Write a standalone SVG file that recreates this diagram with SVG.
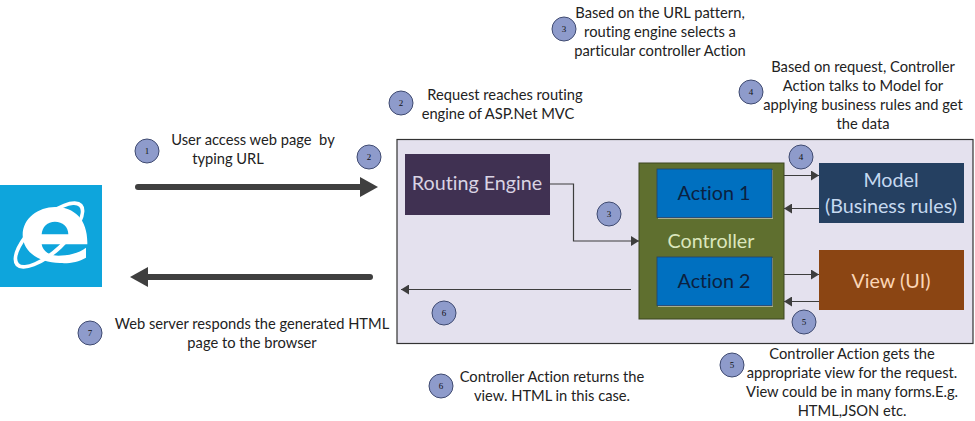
<svg xmlns="http://www.w3.org/2000/svg" width="975" height="421" viewBox="0 0 975 421">
<style>
text{font-family:"Lato","Open Sans","Liberation Sans",sans-serif;font-variant-ligatures:none;white-space:pre}
.t{font-size:14.700px;fill:#222;text-anchor:middle}
.b{fill:#8e9bcb;stroke:#3f4a70;stroke-width:1}
.n{font-size:9px;fill:#111;text-anchor:middle;font-family:"Liberation Serif",serif}
.c{fill:none;stroke:#3d3d3d;stroke-width:1.200}
.h{fill:none;stroke:#3f3f3f;stroke-width:6;stroke-linecap:round}
.l{font-size:19.700px;text-anchor:middle}
</style>
<defs>
<marker id="a" markerUnits="userSpaceOnUse" markerWidth="9" markerHeight="10" refX="8" refY="5" orient="auto"><path d="M0 0L8 5L0 10z" fill="#3d3d3d"/></marker>
<g id="badge"><circle r="12" class="b"/></g>
</defs>
<rect width="975" height="421" fill="#fff"/>
<g id="browser">
<rect x="0" y="185" width="102" height="102" fill="#0ea5dc"/>
<g transform="translate(0 185) scale(.3333)">
<ellipse cx="147" cy="150" rx="136" ry="55" transform="rotate(-43 147 150)" fill="#fff"/>
<ellipse cx="147" cy="150" rx="124" ry="43" transform="rotate(-43 147 150)" fill="#0ea5dc"/>
<path fill="#fff" fill-rule="evenodd" d="M262 178L125 178C128 200 150 212 175 212C205 212 235 205 258 188L258 218C235 232 205 236 180 234C115 232 68 200 68 150C68 100 115 66 165 66C225 66 264 105 262 178ZM125 148L205 148C205 125 188 110 165 110C142 110 127 125 125 148Z"/>
</g>
</g>
<g id="panel"><rect x="397" y="139.500" width="576" height="204" fill="#e4e1ee" stroke="#333" stroke-width="1.200"/></g>
<g id="routing"><rect x="405" y="154" width="145" height="61" fill="#403152"/><text x="477" y="190" class="l" fill="#d9d3e3">Routing Engine</text></g>
<g id="controller"><rect x="639" y="163" width="145" height="156" fill="#5f6f2f" stroke="#3c4720"/><text x="711" y="248" class="l" fill="#dbe6bd">Controller</text></g>
<g id="action1"><rect x="658" y="170" width="115" height="49" fill="#a9ae8c"/><rect x="657" y="169" width="115" height="48.500" fill="#0070c0" stroke="#23406a" stroke-width=".8"/><text x="714" y="200" class="l" fill="#0b2140">Action 1</text></g>
<g id="action2"><rect x="658" y="258" width="115" height="49" fill="#a9ae8c"/><rect x="657" y="257" width="115" height="48.500" fill="#0070c0" stroke="#23406a" stroke-width=".8"/><text x="714" y="288" class="l" fill="#0b2140">Action 2</text></g>
<g id="model"><rect x="819" y="163" width="145" height="60" fill="#254061"/><text class="l" fill="#c6d9f0"><tspan x="891" y="187">Model</tspan><tspan x="891" y="213">(Business rules)</tspan></text></g>
<g id="view"><rect x="819" y="250" width="145" height="60" fill="#8b4513"/><text x="891" y="288" class="l" fill="#fbd5b5">View (UI)</text></g>
<g id="connectors">
<path class="h" d="M138 187H362"/><path d="M360 177L378 187L360 197z" fill="#3f3f3f"/>
<path class="h" d="M370 277H146"/><path d="M148 267L130 277L148 287z" fill="#3f3f3f"/>
<path class="c" marker-end="url(#a)" d="M550 184H573.500V241H639"/>
<path class="c" marker-end="url(#a)" d="M631 289.500H401"/>
<path class="c" marker-end="url(#a)" d="M784 175.500H819"/>
<path class="c" marker-end="url(#a)" d="M819 208.500H784"/>
<path class="c" marker-end="url(#a)" d="M784 274.500H819"/>
<path class="c" marker-end="url(#a)" d="M819 301.500H784"/>
</g>
<g id="step1a"><use href="#badge" x="147" y="151"/><text x="147" y="154" class="n">1</text></g>
<g id="step2a"><use href="#badge" x="369" y="157"/><text x="369" y="160" class="n">2</text></g>
<g id="step7"><use href="#badge" x="90" y="333"/><text x="90" y="336" class="n">7</text></g>
<g id="step2b"><use href="#badge" x="401" y="103"/><text x="401" y="106" class="n">2</text></g>
<g id="step3a"><use href="#badge" x="564" y="29"/><text x="564" y="32" class="n">3</text></g>
<g id="step4a"><use href="#badge" x="751" y="92"/><text x="751" y="95" class="n">4</text></g>
<g id="step4b"><use href="#badge" x="801" y="157"/><text x="801" y="160" class="n">4</text></g>
<g id="step3b"><use href="#badge" x="609" y="214"/><text x="609" y="217" class="n">3</text></g>
<g id="step5a"><use href="#badge" x="804" y="322"/><text x="804" y="325" class="n">5</text></g>
<g id="step5b"><use href="#badge" x="732" y="365"/><text x="732" y="368" class="n">5</text></g>
<g id="step6a"><use href="#badge" x="444" y="313"/><text x="444" y="316" class="n">6</text></g>
<g id="step6b"><use href="#badge" x="441" y="386"/><text x="441" y="389" class="n">6</text></g>
<g id="labels" transform="translate(0 .5)">
<text class="t"><tspan x="253" y="144">User access web page  by</tspan><tspan x="228" y="163">typing URL</tspan></text>
<text class="t"><tspan x="252" y="328">Web server responds the generated HTML</tspan><tspan x="252" y="347">page to the browser</tspan></text>
<text class="t"><tspan x="505" y="99">Request reaches routing</tspan><tspan x="498" y="118">engine of ASP.Net MVC</tspan></text>
<text class="t"><tspan x="660" y="17">Based on the URL pattern,</tspan><tspan x="660" y="36">routing engine selects a</tspan><tspan x="660" y="55">particular controller Action</tspan></text>
<text class="t"><tspan x="863" y="71">Based on request, Controller</tspan><tspan x="863" y="90">Action talks to Model for</tspan><tspan x="863" y="109">applying business rules and get</tspan><tspan x="863" y="128">the data</tspan></text>
<text class="t"><tspan x="852" y="358">Controller Action gets the</tspan><tspan x="852" y="377">appropriate view for the request.</tspan><tspan x="852" y="396">View could be in many forms.E.g.</tspan><tspan x="852" y="415">HTML,JSON etc.</tspan></text>
<text class="t"><tspan x="552" y="381">Controller Action returns the</tspan><tspan x="552" y="400">view. HTML in this case.</tspan></text>
</g>
</svg>
